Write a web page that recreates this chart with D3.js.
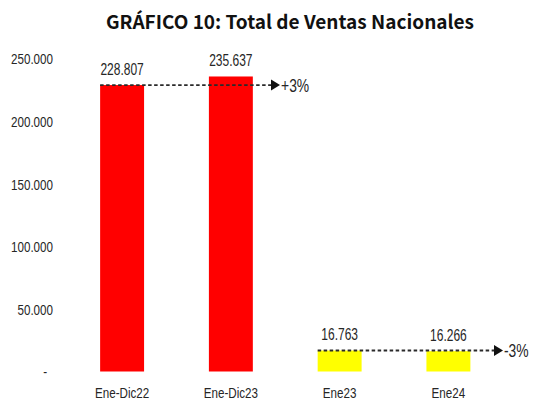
<!DOCTYPE html>
<html>
<head>
<meta charset="utf-8">
<script src="https://cdn.jsdelivr.net/npm/d3@7"></script>
<style>
  html, body { margin: 0; padding: 0; background: #fff; }
  svg { display: block; }
  .num { font-family: "Liberation Sans", Arial, sans-serif; fill: #262626; }
</style>
</head>
<body>
<script>
const categories = ["Ene-Dic22", "Ene-Dic23", "Ene23", "Ene24"];
const values = [228807, 235637, 16763, 16266];
const barColors = ["#FF0000", "#FF0000", "#FFFF00", "#FFFF00"];
const yTicks = [0, 50000, 100000, 150000, 200000, 250000];
const yTickLabels = ["-", "50.000", "100.000", "150.000", "200.000", "250.000"];
const valueLabels = ["228.807", "235.637", "16.763", "16.266"];
const arrowFrom = [0, 2];
const arrowTo = [1, 3];
const arrowLabels = ["+3%", "-3%"];
const title = "GRÁFICO 10: Total de Ventas Nacionales";

const W = 533, H = 401;
const NARROW = 0.75;
const svg = d3.select("body").append("svg").attr("width", W).attr("height", H);

const x = d3.scaleBand().domain(categories).range([67.5, 503]).paddingInner(0.596).paddingOuter(0.3);
const y = d3.scaleLinear().domain([0, 250000]).range([371.5, 58.5]);

svg.append("text")
  .attr("x", 290).attr("y", 29)
  .attr("text-anchor", "middle")
  .style("font-family", "'Noto Sans CJK JP', 'Noto Sans', sans-serif")
  .style("font-weight", "bold")
  .style("font-size", "19px")
  .attr("fill", "#111")
  .text(title);

// y axis labels
const yAxis = d3.axisLeft(y).tickValues(yTicks).tickFormat((d, i) => yTickLabels[i]).tickSize(0).tickPadding(0);
const gy = svg.append("g").attr("transform", "translate(53,0)").call(yAxis);
gy.select(".domain").remove();
gy.selectAll("text").attr("class", "num").style("font-size", "15.5px").attr("dy", "0.35em")
  .attr("x", (d) => d === 0 ? -8 : 0)
  .attr("transform", `scale(${NARROW},1)`);

// bars
svg.append("g").selectAll("rect").data(values).join("rect")
  .attr("x", (d, i) => x(categories[i]))
  .attr("width", x.bandwidth())
  .attr("y", d => y(d))
  .attr("height", d => y(0) - y(d))
  .attr("fill", (d, i) => barColors[i]);

// value labels
svg.append("g").selectAll("text").data(values).join("text")
  .attr("class", "num")
  .attr("transform", (d, i) => `translate(${x(categories[i]) + x.bandwidth() / 2},${y(d) - 10.5}) scale(${NARROW},1)`)
  .attr("text-anchor", "middle")
  .style("font-size", "16px")
  .text((d, i) => valueLabels[i]);

// category labels
const xAxis = d3.axisBottom(x).tickSize(0).tickPadding(0);
const gx = svg.append("g").attr("transform", "translate(0,386.5)").call(xAxis);
gx.select(".domain").remove();
gx.selectAll("text").attr("class", "num").style("font-size", "15.5px").attr("dy", "0.71em")
  .attr("transform", `scale(${NARROW},1)`);

// arrows
const arrowOffset = [0.25, 0.3];
arrowFrom.forEach((fi, k) => {
  const ti = arrowTo[k];
  const x0 = x(categories[fi]);
  const x1 = x(categories[ti]) + x.bandwidth() + x.step() * arrowOffset[k];
  const yy = y(values[fi]);
  svg.append("line")
    .attr("x1", x0).attr("x2", x1 - 4).attr("y1", yy).attr("y2", yy)
    .attr("stroke", "#2a2a2a").attr("stroke-width", 1.8)
    .attr("stroke-dasharray", "3.5,2.5");
  svg.append("path")
    .attr("d", `M${x1 - 9},${yy - 5.5} L${x1},${yy} L${x1 - 9},${yy + 5.5} Z`)
    .attr("fill", "#111");
  svg.append("text")
    .attr("class", "num")
    .attr("transform", `translate(${x1 + 1},${yy}) scale(${NARROW},1)`)
    .attr("dy", "0.35em")
    .style("font-size", "18.5px")
    .text(arrowLabels[k]);
});
</script>
</body>
</html>
